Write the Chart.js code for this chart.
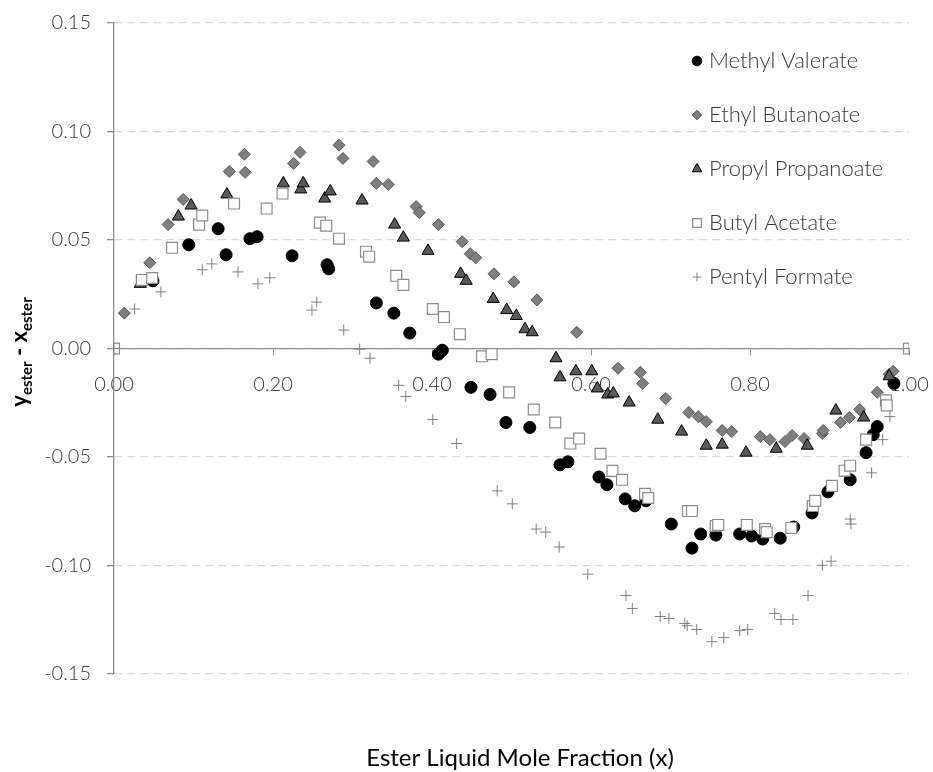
<!DOCTYPE html>
<html>
<head>
<meta charset="utf-8">
<script src="https://cdn.jsdelivr.net/npm/chart.js@4/dist/chart.umd.min.js"></script>
<style>
    body { margin: 0; background: #ffffff; }
    #wrap { width: 933px; height: 772px; }
</style>
</head>
<body>
<div id="wrap"><canvas id="myChart" width="933" height="772"></canvas></div>
<script>
// series values (x = ester liquid mole fraction, y = y - x)
const methylX = [0.049, 0.094, 0.131, 0.141, 0.171, 0.180, 0.224, 0.268, 0.270, 0.330, 0.352, 0.372, 0.408, 0.413, 0.449, 0.473, 0.493, 0.523, 0.561, 0.571, 0.610, 0.620, 0.643, 0.655, 0.669, 0.701, 0.727, 0.738, 0.757, 0.787, 0.802, 0.816, 0.838, 0.855, 0.878, 0.898, 0.926, 0.946, 0.955, 0.960, 0.981];
const methylY = [0.0312, 0.0478, 0.0552, 0.0432, 0.0506, 0.0515, 0.0427, 0.0386, 0.0367, 0.0210, 0.0163, 0.0071, -0.0026, -0.0008, -0.0179, -0.0212, -0.0341, -0.0364, -0.0536, -0.0522, -0.0592, -0.0628, -0.0693, -0.0725, -0.0702, -0.0809, -0.0920, -0.0855, -0.0860, -0.0855, -0.0864, -0.0878, -0.0874, -0.0823, -0.0758, -0.0661, -0.0605, -0.0480, -0.0397, -0.0360, -0.0161];

const ethylX = [0.013, 0.045, 0.068, 0.087, 0.145, 0.164, 0.165, 0.226, 0.234, 0.283, 0.288, 0.326, 0.330, 0.345, 0.380, 0.384, 0.408, 0.438, 0.448, 0.455, 0.478, 0.503, 0.532, 0.582, 0.634, 0.662, 0.665, 0.694, 0.723, 0.735, 0.745, 0.765, 0.777, 0.813, 0.825, 0.844, 0.853, 0.868, 0.891, 0.892, 0.914, 0.925, 0.938, 0.960, 0.975, 0.980];
const ethylY = [0.0163, 0.0395, 0.0571, 0.0687, 0.0816, 0.0895, 0.0812, 0.0853, 0.0904, 0.0937, 0.0876, 0.0862, 0.0761, 0.0756, 0.0654, 0.0626, 0.0571, 0.0492, 0.0437, 0.0418, 0.0344, 0.0307, 0.0224, 0.0075, -0.0091, -0.0110, -0.0161, -0.0230, -0.0295, -0.0314, -0.0337, -0.0378, -0.0383, -0.0406, -0.0420, -0.0429, -0.0401, -0.0415, -0.0392, -0.0378, -0.0341, -0.0318, -0.0281, -0.0202, -0.0119, -0.0105];

const propylX = [0.033, 0.081, 0.097, 0.142, 0.213, 0.235, 0.238, 0.265, 0.272, 0.312, 0.353, 0.364, 0.395, 0.436, 0.443, 0.477, 0.494, 0.506, 0.517, 0.526, 0.556, 0.561, 0.581, 0.601, 0.608, 0.621, 0.628, 0.648, 0.684, 0.714, 0.745, 0.765, 0.795, 0.833, 0.872, 0.908, 0.943, 0.975];
const propylY = [0.0298, 0.0608, 0.0659, 0.0710, 0.0761, 0.0733, 0.0761, 0.0691, 0.0724, 0.0682, 0.0571, 0.0511, 0.0450, 0.0344, 0.0312, 0.0228, 0.0177, 0.0150, 0.0089, 0.0075, -0.0045, -0.0133, -0.0105, -0.0105, -0.0184, -0.0212, -0.0207, -0.0249, -0.0328, -0.0383, -0.0448, -0.0443, -0.0480, -0.0462, -0.0448, -0.0286, -0.0318, -0.0128];

const butylX = [0, 0.035, 0.048, 0.073, 0.107, 0.111, 0.151, 0.192, 0.212, 0.259, 0.267, 0.283, 0.317, 0.321, 0.355, 0.364, 0.401, 0.415, 0.435, 0.463, 0.475, 0.497, 0.528, 0.555, 0.574, 0.585, 0.612, 0.627, 0.639, 0.668, 0.672, 0.722, 0.727, 0.757, 0.760, 0.796, 0.819, 0.821, 0.852, 0.879, 0.882, 0.903, 0.919, 0.926, 0.946, 0.971, 0.972, 1];
const butylY = [0, 0.0316, 0.0325, 0.0464, 0.0571, 0.0613, 0.0668, 0.0645, 0.0714, 0.0580, 0.0566, 0.0506, 0.0446, 0.0423, 0.0335, 0.0293, 0.0182, 0.0145, 0.0066, -0.0036, -0.0026, -0.0202, -0.0281, -0.0341, -0.0438, -0.0415, -0.0485, -0.0564, -0.0605, -0.0670, -0.0689, -0.0749, -0.0749, -0.0818, -0.0813, -0.0813, -0.0832, -0.0846, -0.0827, -0.0726, -0.0702, -0.0633, -0.0563, -0.0540, -0.0420, -0.0239, -0.0262, 0];

const pentylX = [0, 0.026, 0.059, 0.111, 0.123, 0.156, 0.181, 0.196, 0.249, 0.255, 0.289, 0.309, 0.322, 0.358, 0.367, 0.401, 0.431, 0.482, 0.501, 0.531, 0.543, 0.560, 0.596, 0.644, 0.652, 0.687, 0.698, 0.718, 0.721, 0.733, 0.752, 0.767, 0.787, 0.797, 0.831, 0.839, 0.854, 0.873, 0.891, 0.902, 0.926, 0.927, 0.953, 0.967, 0.976, 1];
const pentylY = [0, 0.0182, 0.0261, 0.0363, 0.0390, 0.0353, 0.0298, 0.0326, 0.0177, 0.0214, 0.0085, -0.0003, -0.0045, -0.0170, -0.0221, -0.0327, -0.0438, -0.0656, -0.0716, -0.0832, -0.0846, -0.0915, -0.1040, -0.1138, -0.1198, -0.1235, -0.1244, -0.1267, -0.1277, -0.1295, -0.1351, -0.1332, -0.1300, -0.1295, -0.1221, -0.1249, -0.1249, -0.1138, -0.0999, -0.0980, -0.0786, -0.0809, -0.0573, -0.0420, -0.0314, 0];

const seriesNames = ['Methyl Valerate', 'Ethyl Butanoate', 'Propyl Propanoate', 'Butyl Acetate', 'Pentyl Formate'];
const xTitle = 'Ester Liquid Mole Fraction (x)';

const tickFont = { family: 'Lato', size: 20, weight: '300' };
const textColor = '#383838';
const axisColor = '#8c8c8c';

function toPoints(xs, ys) {
    let pts = [];
    for (let i = 0; i < xs.length; i++) {
        pts.push({ x: xs[i], y: ys[i] });
    }
    return pts;
}

const styles = [
    { pointStyle: 'circle', radius: 6, bg: '#000000', border: '#000000', width: 1, order: 5 },
    { pointStyle: 'rectRot', radius: 6, bg: '#7f7f7f', border: '#595959', width: 1, order: 4 },
    { pointStyle: 'triangle', radius: 7, bg: '#595959', border: '#000000', width: 1, order: 3 },
    { pointStyle: 'rect', radius: 7.7, bg: '#ffffff', border: '#8c8c8c', width: 1.2, order: 2 },
    { pointStyle: 'cross', radius: 5.5, bg: '#808080', border: '#808080', width: 1, order: 1 }
];

const allData = [
    toPoints(methylX, methylY),
    toPoints(ethylX, ethylY),
    toPoints(propylX, propylY),
    toPoints(butylX, butylY),
    toPoints(pentylX, pentylY)
];

let datasets = [];
for (let i = 0; i < 5; i++) {
    datasets.push({
        label: seriesNames[i],
        data: allData[i],
        pointStyle: styles[i].pointStyle,
        pointRadius: styles[i].radius,
        pointBackgroundColor: styles[i].bg,
        pointBorderColor: styles[i].border,
        pointBorderWidth: styles[i].width,
        order: styles[i].order,
        showLine: false
    });
}

// legend inside the plot + the two axis titles (y title needs subscripts)
const extraText = {
    id: 'extraText',
    afterDraw(chart) {
        const ctx = chart.ctx;
        // legend
        const legX = 697;
        const legY = [61, 115, 169, 223, 277];
        for (let i = 0; i < 5; i++) {
            ctx.save();
            ctx.fillStyle = styles[i].bg;
            ctx.strokeStyle = styles[i].border;
            ctx.lineWidth = styles[i].width;
            Chart.helpers.drawPoint(ctx, {
                pointStyle: styles[i].pointStyle,
                radius: styles[i].radius * 0.8,
                borderWidth: styles[i].width
            }, legX, legY[i]);
            ctx.restore();
        }
        ctx.save();
        ctx.font = '300 22px Lato';
        ctx.fillStyle = textColor;
        ctx.textBaseline = 'middle';
        ctx.textAlign = 'left';
        for (let i = 0; i < 5; i++) {
            ctx.fillText(seriesNames[i], legX + 12, legY[i]);
        }
        ctx.restore();

        // x title
        ctx.save();
        ctx.font = '400 24px Lato';
        ctx.fillStyle = '#000000';
        ctx.textAlign = 'center';
        ctx.textBaseline = 'alphabetic';
        ctx.fillText(xTitle, 520, 766);
        ctx.restore();

        // y title: y_ester - x_ester
        ctx.save();
        ctx.translate(27, 352);
        ctx.rotate(-Math.PI / 2);
        ctx.fillStyle = '#000000';
        ctx.textBaseline = 'alphabetic';
        ctx.textAlign = 'left';
        const big = 'bold 22px Lato';
        const small = 'bold 15px Lato';
        const parts = [['y', big, 0], ['ester', small, 5], [' - x', big, 0], ['ester', small, 5]];
        let total = 0;
        for (const p of parts) {
            ctx.font = p[1];
            total += ctx.measureText(p[0]).width;
        }
        let pos = -total / 2;
        for (const p of parts) {
            ctx.font = p[1];
            ctx.fillText(p[0], pos, p[2]);
            pos += ctx.measureText(p[0]).width;
        }
        ctx.restore();
    }
};

function fmt(v) {
    if (Math.abs(v) < 1e-9) return '0.00';
    return v.toFixed(2);
}

const canvas = document.getElementById('myChart').getContext('2d');
const myChart = new Chart(canvas, {
    type: 'scatter',
    data: { datasets: datasets },
    options: {
        responsive: false,
        animation: false,
        events: [],
        layout: { padding: { left: 0, right: 24, top: 23, bottom: 98 } },
        plugins: {
            legend: { display: false },
            tooltip: { enabled: false }
        },
        scales: {
            x: {
                type: 'linear',
                min: 0,
                max: 1,
                position: { y: 0 },
                ticks: {
                    stepSize: 0.2,
                    callback: fmt,
                    font: tickFont,
                    color: textColor,
                    padding: 18,
                    maxRotation: 0
                },
                grid: {
                    drawOnChartArea: false,
                    drawTicks: true,
                    tickLength: 6,
                    tickColor: axisColor
                },
                border: { display: true, color: axisColor, width: 1.3 },
                afterFit: function (scale) {
                    scale.paddingLeft = 0;
                    scale.paddingRight = 0;
                }
            },
            y: {
                type: 'linear',
                min: -0.15,
                max: 0.15,
                ticks: {
                    stepSize: 0.05,
                    callback: fmt,
                    font: tickFont,
                    color: textColor,
                    padding: 16
                },
                grid: {
                    color: '#d9d9d9',
                    lineWidth: 1.3,
                    drawTicks: true,
                    tickLength: 7,
                    tickColor: axisColor,
                    tickBorderDash: []
                },
                border: { display: true, color: axisColor, width: 1.3, dash: [8, 5] },
                afterFit: function (scale) {
                    scale.width = 114;
                    scale.paddingTop = 0;
                    scale.paddingBottom = 0;
                }
            }
        }
    },
    plugins: [extraText]
});
</script>
</body>
</html>
